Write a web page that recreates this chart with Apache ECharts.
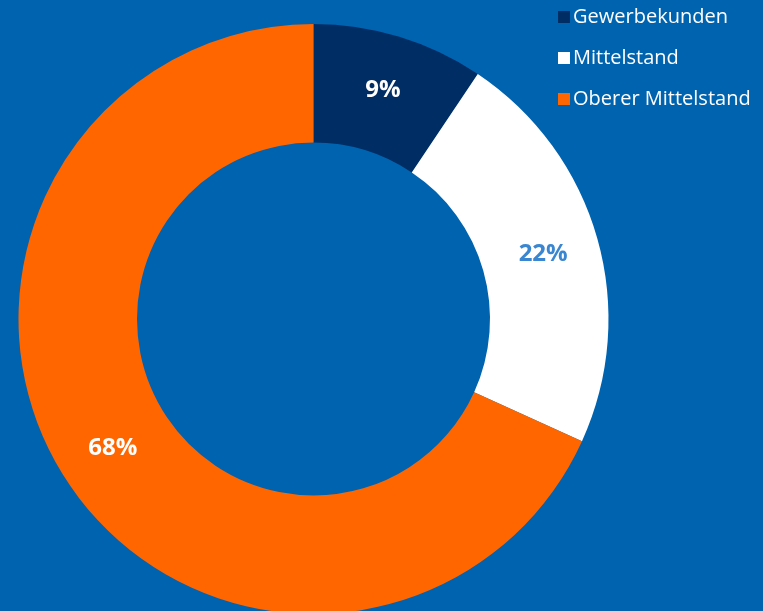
<!DOCTYPE html>
<html>
<head>
<meta charset="utf-8">
<script src="https://cdn.jsdelivr.net/npm/echarts@6/dist/echarts.min.js"></script>
<style>
html,body{margin:0;padding:0;background:#0063AF;}
#c{width:763px;height:611px;}
</style>
</head>
<body>
<div id="c"></div>
<script>
const categories = ["Gewerbekunden", "Mittelstand", "Oberer Mittelstand"];
const values = [9.4, 22.4, 68.2];
const colors = ["#002D64", "#FFFFFF", "#FF6600"];
const labelColors = ["#FFFFFF", "#3B86D1", "#FFFFFF"];

const chart = echarts.init(document.getElementById('c'), null, {renderer: 'canvas'});
chart.setOption({
  backgroundColor: '#0063AF',
  animation: false,
  legend: {
    orient: 'vertical',
    left: 553,
    top: 2,
    itemWidth: 12,
    itemHeight: 12,
    itemGap: 21,
    icon: 'rect',
    textStyle: {color: '#FFFFFF', fontSize: 20, fontFamily: 'Open Sans', padding: [0,0,0,-2]},
    data: categories
  },
  series: [{
    type: 'pie',
    center: [313.5, 319],
    radius: [176.5, 295],
    startAngle: 90,
    clockwise: true,
    avoidLabelOverlap: false,
    label: {
      show: true,
      position: 'inside',
      fontSize: 24,
      fontWeight: 'bold',
      fontFamily: 'Open Sans',
      padding: [4, 0, 0, 0],
      formatter: p => Math.round(p.value) + '%'
    },
    labelLine: {show: false},
    itemStyle: {borderWidth: 0},
    emphasis: {disabled: true},
    data: categories.map((n, i) => ({
      name: n,
      value: values[i],
      itemStyle: {color: colors[i]},
      label: {color: labelColors[i]}
    }))
  }]
});
</script>
</body>
</html>
